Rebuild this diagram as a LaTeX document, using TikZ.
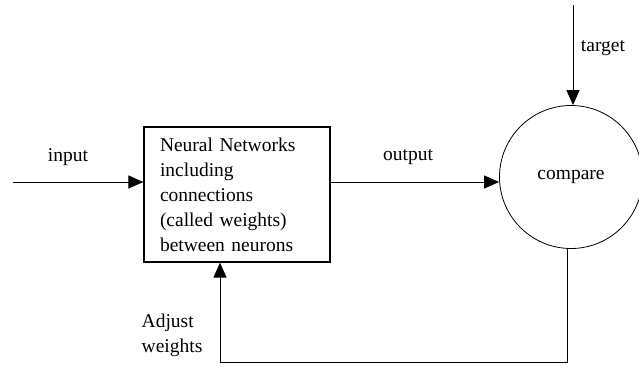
\documentclass[tikz,border=0pt]{standalone}
\usepackage{fontspec}
\setmainfont{Liberation Serif}
\usetikzlibrary{positioning,arrows.meta,shapes}
\tikzset{nn/.style={rectangle,draw,line width=1.2pt,minimum width=186pt,minimum height=135pt,text width=154pt,inner xsep=16pt,align=left},
            c/.style={circle,draw,line width=0.8pt,minimum size=143pt},
            t/.style={font=\fontsize{19.5}{25}\selectfont},
            a/.style={-{Triangle[length=15pt,width=13pt]},line width=1pt}}

\begin{document}
\begin{tikzpicture}[x=1pt,y=-1pt,t]
\useasboundingbox (0,0) rectangle (639,367);
\node[nn] at (237,194.5)(net){Neural Networks\\including\\connections\\(called weights)\\between neurons};
\node[c] at (571,177)(cmp){compare};
\coordinate (in) at (13,182);
\coordinate (tg) at (573,5);
\coordinate (fb) at (567,362);
\coordinate (aw) at (220,362);
\node at (68,157)(lin){input};
\node at (408,157)(lout){output};
\node at (603,48)(ltg){target};
\node[align=left] at (172,335)(ladj){Adjust\\weights};
\draw[a] (in) -- (in -| net.west);
\draw[a] (net.east |- in) -- (cmp.west |- in);
\draw[a] (tg) -- (tg |- cmp.north);
\draw[a] (fb |- cmp.south) -- (fb) -- (aw) -- (aw |- net.south);
\end{tikzpicture}
\end{document}
